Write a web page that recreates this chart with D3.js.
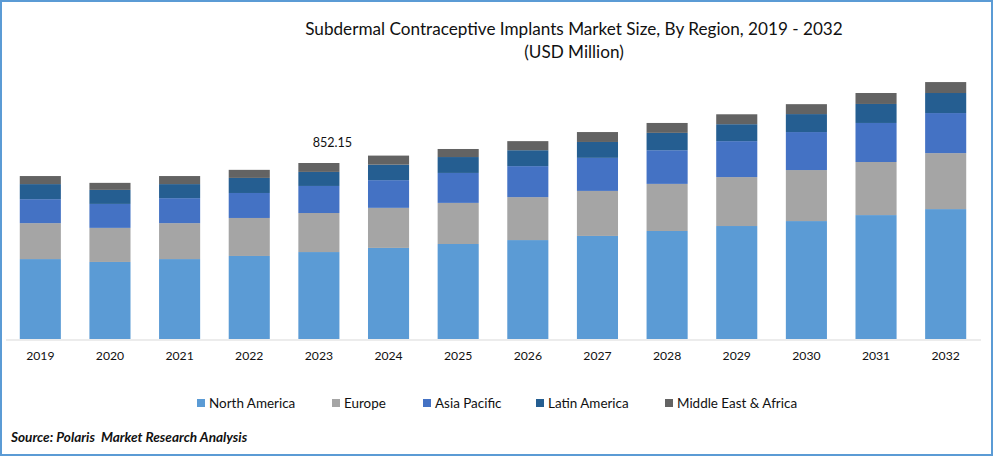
<!DOCTYPE html>
<html><head><meta charset="utf-8">
<script src="https://cdn.jsdelivr.net/npm/d3@7"></script>
<style>html,body{margin:0;padding:0;background:#fff}svg{display:block}text{font-family:Lato,sans-serif;fill:#111}</style>
</head><body><svg id="c" width="993" height="456"></svg>
<script>
const years=["2019","2020","2021","2022","2023","2024","2025","2026","2027","2028","2029","2030","2031","2032"];
const northAmerica=[387,373,387,402,421,441,460,479,499,523,547,571,600,629];
const europe=[174,165,174,184,189,194,199,208,218,228,237,247,257,271];
const asiaPacific=[116,116,121,121,131,134,145,150,160,163,174,184,189,194];
const latinAmerica=[73,68,68,73,68,75,77,77,77,84,82,87,92,97];
const middleEastAfrica=[39,34,39,39,43.15,44,39,44,48,48,48,48,53,53];
const seriesNames=["North America","Europe","Asia Pacific","Latin America","Middle East & Africa"];
const colors=["#5B9BD5","#A5A5A5","#4472C4","#255E91","#636363"];
const seriesValues=[northAmerica,europe,asiaPacific,latinAmerica,middleEastAfrica];
const annotatedYear="2023", annotation="852.15";

const svg=d3.select("#c");
const rows=years.map((y,i)=>{const r={year:y};seriesNames.forEach((n,k)=>r[n]=seriesValues[k][i]);return r;});
const stacked=d3.stack().keys(seriesNames)(rows);
const x=d3.scaleBand().domain(years).range([5.5,980.5]).paddingInner(0.41).paddingOuter(0.205);
const y=d3.scaleLinear().domain([0,852.15]).range([339,163]);
const color=d3.scaleOrdinal().domain(seriesNames).range(colors);

svg.append("g").selectAll("g").data(stacked).join("g").attr("fill",d=>color(d.key))
 .selectAll("rect").data(d=>d).join("rect")
 .attr("x",d=>x(d.data.year)).attr("width",x.bandwidth())
 .attr("y",d=>y(d[1])).attr("height",d=>y(d[0])-y(d[1]));

const ax=svg.append("g").attr("transform","translate(0,339.5)").call(d3.axisBottom(x).tickSize(0).tickPadding(12));
ax.select(".domain").attr("stroke","#d9d9d9").attr("stroke-width",1);
ax.selectAll("text").style("font-size","12.2px").style("font-family","Lato,sans-serif").attr("fill","#111");

const top23=d3.sum(seriesValues,s=>s[years.indexOf(annotatedYear)]);
svg.append("text").attr("x",x(annotatedYear)+x.bandwidth()/2+13.5).attr("y",y(top23)-16)
 .attr("text-anchor","middle").style("font-size","12.6px").text(annotation);

svg.append("text").attr("x",574).attr("y",35).attr("text-anchor","middle").style("font-size","17.15px").text("Subdermal Contraceptive Implants Market Size, By Region, 2019 - 2032");
svg.append("text").attr("x",574).attr("y",58).attr("text-anchor","middle").style("font-size","17.15px").text("(USD Million)");

const legendX=[197,332,423,536,665];
const lg=svg.append("g").selectAll("g").data(seriesNames).join("g").attr("transform",(d,i)=>`translate(${legendX[i]},399)`);
lg.append("rect").attr("width",8).attr("height",8).attr("fill",d=>color(d));
lg.append("text").attr("x",12).attr("y",8.5).style("font-size","13.45px").text(d=>d);

svg.append("text").attr("x",11).attr("y",442).style("font-size","13.6px").style("font-weight","700").style("font-style","italic").style("white-space","pre").text("Source: Polaris  Market Research Analysis");

svg.append("rect").attr("x",1).attr("y",1).attr("width",991).attr("height",454).attr("fill","none").attr("stroke","#5B9BD5").attr("stroke-width",2);
</script></body></html>
